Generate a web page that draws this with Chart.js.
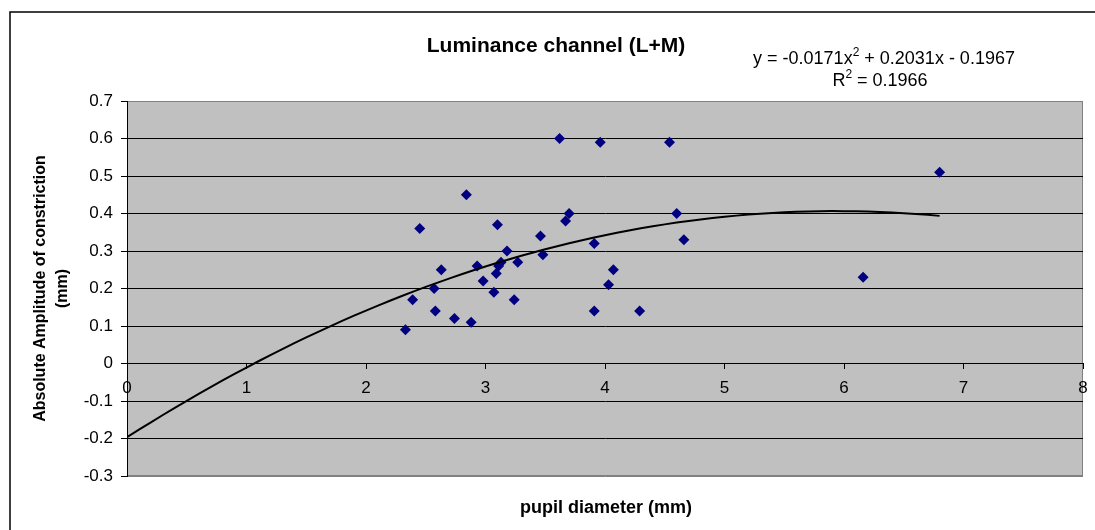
<!DOCTYPE html>
<html>
<head>
<meta charset="utf-8">
<script src="https://cdn.jsdelivr.net/npm/chart.js@4/dist/chart.umd.min.js"></script>
<style>
  html, body { margin: 0; padding: 0; background: #fff; }
  #chart { display: block; }
</style>
</head>
<body>
<canvas id="chart" width="1095" height="530"></canvas>
<script>
// pupil diameter (mm) vs absolute constriction amplitude (mm)
const pupilDiameter = [2.33, 2.39, 2.45, 2.57, 2.58, 2.63, 2.74, 2.84, 2.88, 2.93, 2.98, 3.07,
  3.09, 3.10, 3.11, 3.13, 3.18, 3.24, 3.27, 3.46, 3.48, 3.62, 3.67, 3.70, 3.91, 3.91, 3.96,
  4.03, 4.07, 4.29, 4.54, 4.60, 4.66, 6.16, 6.80];
const amplitude = [0.09, 0.17, 0.36, 0.20, 0.14, 0.25, 0.12, 0.45, 0.11, 0.26, 0.22, 0.19,
  0.24, 0.37, 0.26, 0.27, 0.30, 0.17, 0.27, 0.34, 0.29, 0.60, 0.38, 0.40, 0.32, 0.14, 0.59,
  0.21, 0.25, 0.14, 0.59, 0.40, 0.33, 0.23, 0.51];

// polynomial trendline, highest power first
const trendCoef = [-0.0171, 0.2031, -0.1967];
const rSquared = 0.1966;

const xTicks = [0, 1, 2, 3, 4, 5, 6, 7, 8];
const yTicks = [-0.3, -0.2, -0.1, 0, 0.1, 0.2, 0.3, 0.4, 0.5, 0.6, 0.7];
const yTickLabels = ['-0.3', '-0.2', '-0.1', '0', '0.1', '0.2', '0.3', '0.4', '0.5', '0.6', '0.7'];

const FONT = '"Liberation Sans", Arial, sans-serif';

const points = pupilDiameter.map((x, i) => ({ x: x, y: amplitude[i] }));

const trendPoints = [];
const xEnd = Math.max(...pupilDiameter);
for (let x = 0; x <= xEnd + 1e-9; x += 0.1) {
  const y = trendCoef[0] * x * x + trendCoef[1] * x + trendCoef[2];
  trendPoints.push({ x: x, y: y });
}

// draws a line of text where some pieces are superscripts, centred on cx
function drawParts(ctx, parts, cx, baseline, size) {
  const fontFor = p => (p.sup ? Math.round(size * 0.68) : size) + 'px ' + FONT;
  let total = 0;
  parts.forEach(p => { ctx.font = fontFor(p); total += ctx.measureText(p.t).width; });
  let x = cx - total / 2;
  ctx.textAlign = 'left';
  ctx.textBaseline = 'alphabetic';
  parts.forEach(p => {
    ctx.font = fontFor(p);
    ctx.fillText(p.t, x, p.sup ? baseline - size * 0.42 : baseline);
    x += ctx.measureText(p.t).width;
  });
}

const fmt = (v, d) => Math.abs(v).toFixed(d);

const decorations = {
  id: 'decorations',
  beforeDraw(chart) {
    const { ctx, chartArea: a } = chart;
    ctx.save();
    ctx.fillStyle = '#c0c0c0';
    ctx.fillRect(a.left, a.top, a.right - a.left, a.bottom - a.top);
    ctx.strokeStyle = '#808080';
    ctx.lineWidth = 1;
    ctx.strokeRect(a.left + 0.5, a.top + 0.5, a.right - a.left - 1, a.bottom - a.top - 1);
    // outer chart frame
    ctx.strokeStyle = '#000';
    ctx.lineWidth = 1.5;
    ctx.beginPath();
    ctx.moveTo(10, 540);
    ctx.lineTo(10, 12);
    ctx.lineTo(1100, 12);
    ctx.stroke();
    ctx.restore();
  },
  afterDraw(chart) {
    const ctx = chart.ctx;
    ctx.save();
    ctx.fillStyle = '#000';
    ctx.textAlign = 'center';
    ctx.textBaseline = 'alphabetic';
    ctx.font = 'bold 21px ' + FONT;
    ctx.fillText('Luminance channel (L+M)', 556, 52);
    ctx.font = 'bold 18px ' + FONT;
    ctx.fillText('pupil diameter (mm)', 606, 513);

    const [a2, a1, a0] = trendCoef;
    drawParts(ctx, [
      { t: 'y = ' + (a2 < 0 ? '-' : '') + fmt(a2, 4) + 'x' },
      { t: '2', sup: true },
      { t: (a1 < 0 ? ' - ' : ' + ') + fmt(a1, 4) + 'x' + (a0 < 0 ? ' - ' : ' + ') + fmt(a0, 4) }
    ], 884, 64, 18);
    drawParts(ctx, [
      { t: 'R' },
      { t: '2', sup: true },
      { t: ' = ' + rSquared.toFixed(4) }
    ], 880, 86, 18);
    ctx.restore();
  }
};

new Chart(document.getElementById('chart').getContext('2d'), {
  type: 'scatter',
  data: {
    datasets: [
      {
        label: 'Poly. trend',
        data: trendPoints,
        showLine: true,
        borderColor: '#000',
        borderWidth: 2,
        pointRadius: 0,
        tension: 0
      },
      {
        label: 'Luminance',
        data: points,
        pointStyle: 'rectRot',
        pointRadius: 5.5,
        backgroundColor: '#000080',
        borderColor: '#000080',
        borderWidth: 0
      }
    ]
  },
  options: {
    responsive: false,
    animation: false,
    events: [],
    layout: { padding: { top: 101, right: 12, bottom: 54, left: 0 } },
    plugins: {
      legend: { display: false },
      title: { display: false },
      tooltip: { enabled: false }
    },
    scales: {
      x: {
        type: 'linear',
        position: { y: 0 },
        min: 0,
        max: 8,
        afterBuildTicks: s => { s.ticks = xTicks.map(v => ({ value: v })); },
        afterFit: s => { s.paddingLeft = 0; s.paddingRight = 0; },
        ticks: {
          color: '#000',
          font: { family: FONT, size: 17 },
          padding: 10,
          maxRotation: 0,
          callback: (v, i) => String(xTicks[i])
        },
        grid: { drawOnChartArea: false, drawTicks: true, tickLength: 5, tickColor: '#000' },
        border: { color: '#000', width: 1 }
      },
      y: {
        type: 'linear',
        position: 'left',
        min: -0.3,
        max: 0.7,
        afterBuildTicks: s => { s.ticks = yTicks.map(v => ({ value: v })); },
        afterFit: s => { s.width = 127; },
        ticks: {
          color: '#000',
          font: { family: FONT, size: 17 },
          padding: 8,
          callback: (v, i) => yTickLabels[i]
        },
        grid: {
          color: c => (c.index === 0 || c.index === yTicks.length - 1) ? '#808080' : '#000',
          lineWidth: 1,
          tickLength: 6,
          tickColor: '#000'
        },
        border: { color: '#000', width: 1 },
        title: {
          display: true,
          text: ['Absolute Amplitude of constriction', '(mm)'],
          color: '#000',
          font: { family: FONT, size: 16, weight: 'bold', lineHeight: 1.4 },
          padding: { top: 29, bottom: 0 }
        }
      }
    }
  },
  plugins: [decorations]
});
</script>
</body>
</html>
